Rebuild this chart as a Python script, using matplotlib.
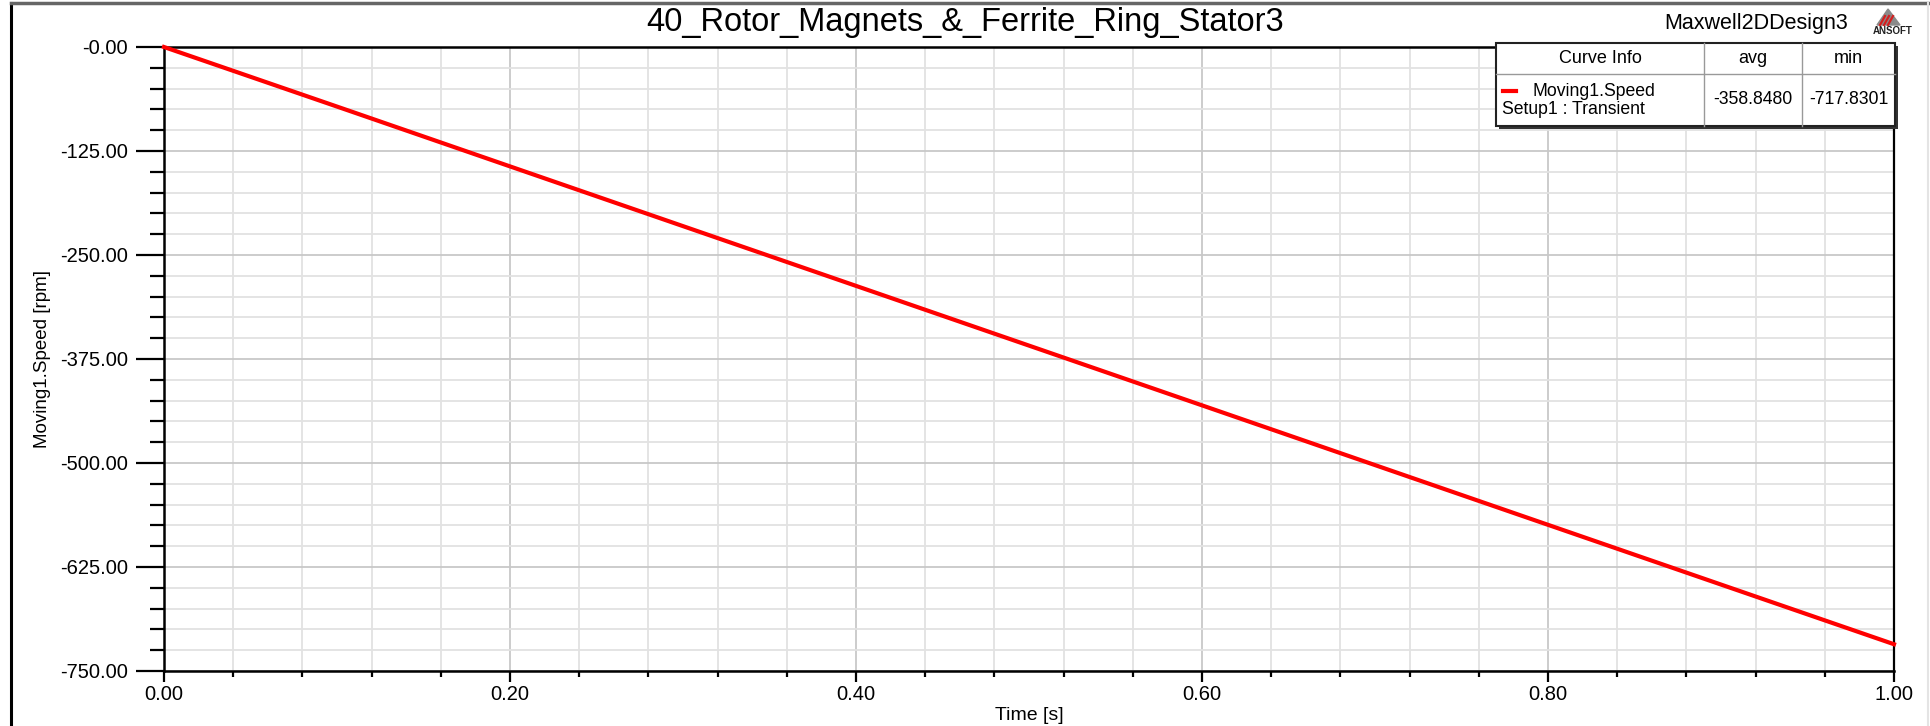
import matplotlib
matplotlib.use('Agg')
import matplotlib.pyplot as plt
from matplotlib.ticker import MultipleLocator, FormatStrFormatter
from matplotlib.patches import Rectangle, Polygon

plt.rcParams['font.family']=['Liberation Sans','DejaVu Sans']

time=[0.0,0.1,0.2,0.3,0.4,0.5,0.6,0.7,0.8,0.9,1.0]
speed=[0.0,-71.6,-143.5,-215.3,-287.1,-358.9,-430.7,-502.5,-574.3,-646.1,-717.83]
title='40_Rotor_Magnets_&_Ferrite_Ring_Stator3'
design='Maxwell2DDesign3'
curve_name='Moving1.Speed'
curve_setup='Setup1 : Transient'
stat_heads=['avg','min']
stat_vals=['-358.8480','-717.8301']

W,H=1930,726
fig=plt.figure(figsize=(W/100,H/100),dpi=100)
fig.patch.set_facecolor('white')

def fx(px): return px/W
def fy(py): return 1-py/H

# outer frame
fig.add_artist(plt.Line2D([fx(11),fx(11)],[0,fy(3)],color='black',lw=2.2,transform=fig.transFigure))
fig.add_artist(plt.Line2D([fx(11),fx(1928)],[fy(3),fy(3)],color='#666666',lw=2.5,transform=fig.transFigure))
fig.add_artist(plt.Line2D([fx(1928),fx(1928)],[0,fy(3)],color='#e4e4e4',lw=1.5,transform=fig.transFigure))

ax=fig.add_axes([fx(164),fy(671),fx(1894)-fx(164),fy(47)-fy(671)])
ax.plot(time,speed,color='#ff0000',lw=3.0,zorder=3,clip_on=False)
ax.set_xlim(0,1)
ax.set_ylim(-750,0)
ax.xaxis.set_major_locator(MultipleLocator(0.2))
ax.xaxis.set_minor_locator(MultipleLocator(0.04))
ax.yaxis.set_major_locator(MultipleLocator(125))
ax.yaxis.set_minor_locator(MultipleLocator(25))
ax.xaxis.set_major_formatter(FormatStrFormatter('%.2f'))
ax.yaxis.set_major_formatter(plt.FuncFormatter(lambda v,p:'-0.00' if v==0 else '%.2f'%v))
ax.grid(which='major',color='#c8c8c8',lw=1.3)
ax.grid(which='minor',color='#e2e2e2',lw=1.3)
ax.set_axisbelow(True)
ax.spines['right'].set_linewidth(1.6)
for s in ['left','bottom','top']:
  ax.spines[s].set_linewidth(1.8)
ax.tick_params(axis='y',which='major',length=20,width=1.6,pad=6,labelsize=14.5)
ax.tick_params(axis='y',which='minor',length=10,width=1.6)
ax.tick_params(axis='x',which='major',length=8,width=1.6,pad=2,labelsize=14.5)
ax.tick_params(axis='x',which='minor',length=4.5,width=1.6)
ax.set_xlabel('Time [s]',fontsize=14)
ax.set_ylabel('Moving1.Speed [rpm]',fontsize=13.5)
ax.xaxis.set_label_coords(0.5,-(715-671)/(671-47),transform=ax.transAxes)
ax.yaxis.set_label_coords(-(164-43)/(1894-164),0.5,transform=ax.transAxes)
ax.xaxis.label.set_va('center')
ax.yaxis.label.set_va('center')

fig.text(fx(965),fy(23),title,fontsize=23.5,ha='center',va='center')
fig.text(fx(1756),fy(23),design,fontsize=15.5,ha='center',va='center')

# ANSOFT logo
fig.add_artist(Polygon([[fx(1877),fy(25)],[fx(1888),fy(9)],[fx(1900),fy(25)]],closed=True,color='#8a8a8a',transform=fig.transFigure))
for d in [0,4,8]:
  fig.add_artist(plt.Line2D([fx(1880+d),fx(1885+d)],[fy(25),fy(16)],color='#d42020',lw=1.6,transform=fig.transFigure))
fig.text(fx(1893),fy(31),'ANSOFT',fontsize=7,fontweight='bold',ha='center',va='center',color='#222222')

# curve info table
x0,x1,x2,x3=1496,1704,1802,1895
y0,y1,y2=43,74,126
fig.add_artist(Rectangle((fx(x0+3),fy(y2+3)),fx(x3)-fx(x0),fy(y0)-fy(y2),facecolor='#333333',edgecolor='none',transform=fig.transFigure,zorder=9))
fig.add_artist(Rectangle((fx(x0),fy(y2)),fx(x3)-fx(x0),fy(y0)-fy(y2),facecolor='white',edgecolor='#222222',lw=1.5,transform=fig.transFigure,zorder=10))
for xx in [x1,x2]:
  fig.add_artist(plt.Line2D([fx(xx),fx(xx)],[fy(y2),fy(y0)],color='#999999',lw=1.0,transform=fig.transFigure,zorder=11))
fig.add_artist(plt.Line2D([fx(x0),fx(x3)],[fy(y1),fy(y1)],color='#999999',lw=1.0,transform=fig.transFigure,zorder=11))
fig.text(fx((x0+x1)/2),fy((y0+y1)/2),'Curve Info',fontsize=13,ha='center',va='center',zorder=12)
for xa,xb,hd,vl in zip([x1,x2],[x2,x3],stat_heads,stat_vals):
  fig.text(fx((xa+xb)/2),fy((y0+y1)/2),hd,fontsize=13,ha='center',va='center',zorder=12)
  fig.text(fx((xa+xb)/2),fy((y1+y2)/2),vl,fontsize=12.7,ha='center',va='center',zorder=12)
fig.add_artist(plt.Line2D([fx(1503),fx(1516)],[fy(91),fy(91)],color='#ff0000',lw=3,transform=fig.transFigure,zorder=12))
fig.text(fx(1533),fy(91),curve_name,fontsize=12.7,ha='left',va='center',zorder=12)
fig.text(fx(1502),fy(110),curve_setup,fontsize=12.7,ha='left',va='center',zorder=12)

fig.savefig('out.png',dpi=100)
